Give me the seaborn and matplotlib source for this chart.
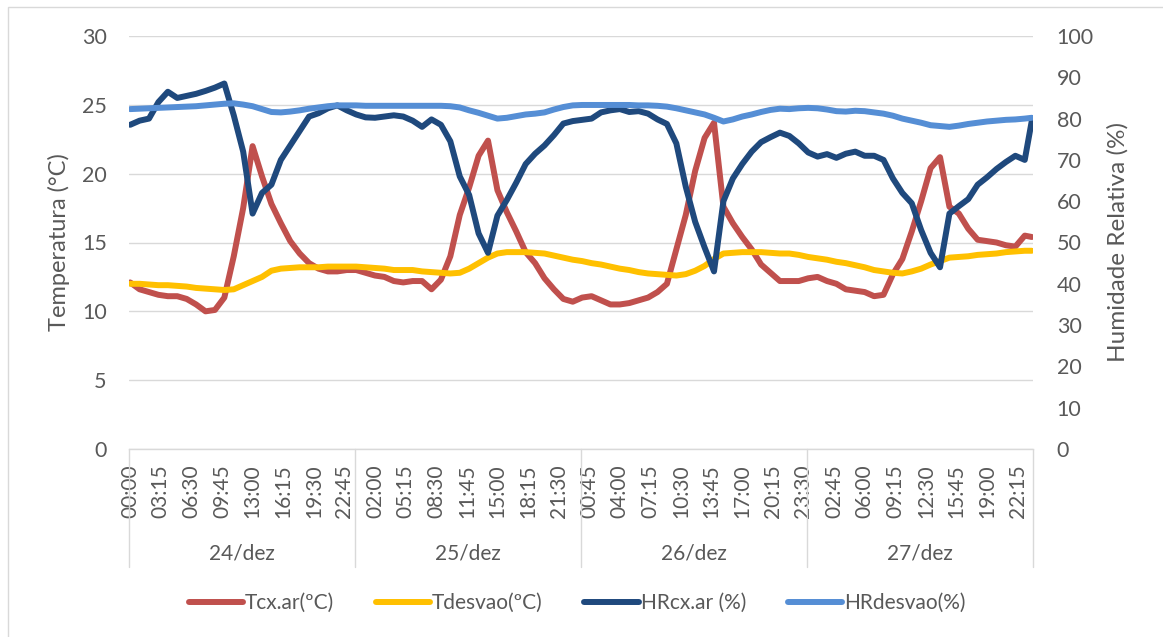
import numpy as np
import pandas as pd
import matplotlib
matplotlib.use("Agg")
import matplotlib.pyplot as plt
import matplotlib.transforms as mtransforms
from matplotlib.patches import Rectangle
import seaborn as sns

# leituras horarias (h desde 24/dez 00:00), ultima leitura 27/dez 23:45
horas = list(range(96)) + [95.75]

tcx_ar = [12.1, 11.6, 11.4, 11.2, 11.1, 11.1, 10.9, 10.5, 10.0, 10.1,
          11.0, 14.0, 17.5, 22.0, 19.8, 17.8, 16.4, 15.1, 14.2, 13.5,
          13.1, 12.9, 12.9, 13.0, 13.0, 12.8, 12.6, 12.5, 12.2, 12.1,
          12.2, 12.2, 11.6, 12.3, 14.0, 17.0, 19.0, 21.3, 22.4, 18.8,
          17.2, 15.8, 14.3, 13.5, 12.4, 11.6, 10.9, 10.7, 11.0, 11.1,
          10.8, 10.5, 10.5, 10.6, 10.8, 11.0, 11.4, 12.0, 14.5, 17.0,
          20.2, 22.6, 23.7, 17.6, 16.4, 15.4, 14.5, 13.4, 12.8, 12.2,
          12.2, 12.2, 12.4, 12.5, 12.2, 12.0, 11.6, 11.5, 11.4, 11.1,
          11.2, 12.7, 13.8, 15.8, 18.0, 20.4, 21.2, 17.6, 17.1, 16.0,
          15.2, 15.1, 15.0, 14.8, 14.7, 15.5, 15.4]

tdesvao = [12.0, 12.0, 11.95, 11.9, 11.9, 11.85, 11.8, 11.7, 11.65, 11.6,
           11.55, 11.6, 11.9, 12.2, 12.5, 12.95, 13.1, 13.15, 13.2, 13.2,
           13.2, 13.25, 13.25, 13.25, 13.25, 13.2, 13.15, 13.1, 13.0, 13.0,
           13.0, 12.9, 12.85, 12.8, 12.75, 12.8, 13.1, 13.5, 13.9, 14.2,
           14.3, 14.3, 14.3, 14.25, 14.2, 14.05, 13.9, 13.75, 13.65, 13.5,
           13.4, 13.25, 13.1, 13.0, 12.85, 12.75, 12.7, 12.65, 12.6, 12.7,
           12.95, 13.3, 13.8, 14.2, 14.25, 14.3, 14.3, 14.3, 14.25, 14.2,
           14.2, 14.1, 13.95, 13.85, 13.75, 13.6, 13.5, 13.35, 13.2, 13.0,
           12.9, 12.8, 12.75, 12.9, 13.1, 13.4, 13.65, 13.9, 13.95, 14.0,
           14.1, 14.15, 14.2, 14.3, 14.35, 14.4, 14.4]

hrcx_ar = [78.5, 79.5, 80.0, 84.0, 86.5, 85.0, 85.5, 86.0, 86.7, 87.5,
           88.5, 80.8, 72.0, 57.0, 62.0, 64.0, 70.0, 73.5, 77.0, 80.5,
           81.3, 82.5, 83.2, 82.0, 81.0, 80.3, 80.2, 80.5, 80.8, 80.5,
           79.5, 78.0, 79.8, 78.5, 74.5, 66.0, 61.5, 52.2, 47.5, 56.5,
           60.3, 64.5, 69.0, 71.5, 73.5, 76.0, 78.8, 79.4, 79.7, 80.0,
           81.5, 82.0, 82.3, 81.6, 81.8, 81.2, 79.8, 78.7, 74.0, 63.5,
           55.0, 48.8, 43.0, 60.0, 65.5, 69.0, 72.0, 74.3, 75.5, 76.6,
           75.8, 74.0, 71.8, 70.8, 71.4, 70.5, 71.5, 72.0, 71.0, 71.0,
           70.0, 65.5, 62.0, 59.5, 53.0, 47.5, 44.0, 57.0, 58.8, 60.5,
           64.0, 65.8, 67.8, 69.5, 71.0, 70.0, 79.5]

hrdesvao = [82.3, 82.4, 82.5, 82.6, 82.7, 82.8, 82.9, 83.0, 83.2, 83.4,
            83.6, 83.7, 83.4, 83.0, 82.3, 81.6, 81.5, 81.7, 82.0, 82.4,
            82.7, 83.0, 83.2, 83.2, 83.2, 83.1, 83.1, 83.1, 83.1, 83.1,
            83.1, 83.1, 83.1, 83.1, 83.0, 82.7, 82.0, 81.4, 80.7, 80.0,
            80.2, 80.6, 81.0, 81.2, 81.5, 82.2, 82.8, 83.2, 83.3, 83.3,
            83.3, 83.3, 83.3, 83.3, 83.2, 83.2, 83.1, 82.9, 82.5, 82.0,
            81.5, 81.0, 80.2, 79.3, 79.8, 80.5, 81.0, 81.6, 82.1, 82.4,
            82.3, 82.5, 82.6, 82.5, 82.2, 81.8, 81.7, 81.9, 81.8, 81.5,
            81.2, 80.7, 80.0, 79.5, 79.0, 78.4, 78.2, 78.0, 78.3, 78.7,
            79.0, 79.3, 79.5, 79.7, 79.8, 80.0, 80.2]

dias = ['24/dez', '25/dez', '26/dez', '27/dez']
rotulos_hora = ['00:00', '03:15', '06:30', '09:45', '13:00', '16:15', '19:30', '22:45',
                '02:00', '05:15', '08:30', '11:45', '15:00', '18:15', '21:30',
                '00:45', '04:00', '07:15', '10:30', '13:45', '17:00', '20:15', '23:30',
                '02:45', '06:00', '09:15', '12:30', '15:45', '19:00', '22:15']

series_t = ['Tcx.ar(ºC)', 'Tdesvao(ºC)']
series_hr = ['HRcx.ar (%)', 'HRdesvao(%)']
cores_t = ['#C0504D', '#FFC000']
cores_hr = ['#1F497D', '#558ED5']

sns.set_style("white")
cinza = '#595959'
grelha = '#D9D9D9'
plt.rcParams['font.family'] = ['Lato', 'DejaVu Sans']
plt.rcParams['text.color'] = cinza
plt.rcParams['xtick.color'] = cinza
plt.rcParams['ytick.color'] = cinza
plt.rcParams['axes.labelcolor'] = cinza

n = len(horas)
df_t = pd.DataFrame({'hora': horas * 2,
                     'valor': tcx_ar + tdesvao,
                     'serie': [series_t[0]] * n + [series_t[1]] * n})
df_hr = pd.DataFrame({'hora': horas * 2,
                      'valor': hrcx_ar + hrdesvao,
                      'serie': [series_hr[0]] * n + [series_hr[1]] * n})

W, H = 1163, 637
fig = plt.figure(figsize=(W / 100, H / 100), dpi=100)
ax = fig.add_axes([129 / W, 1 - 449 / H, 904 / W, 413 / H])

sns.lineplot(data=df_t, x='hora', y='valor', hue='serie', hue_order=series_t,
             palette=cores_t, linewidth=4.3, solid_capstyle='round',
             legend=False, ax=ax)
ax2 = ax.twinx()
sns.lineplot(data=df_hr, x='hora', y='valor', hue='serie', hue_order=series_hr,
             palette=cores_hr, linewidth=4.3, solid_capstyle='round',
             legend=False, ax=ax2)
linhas = list(ax.get_lines()) + list(ax2.get_lines())

ax.set_xlim(-0.125, 95.875)
ax.set_ylim(0, 30)
ax2.set_ylim(0, 100)
ax.set_yticks(range(0, 31, 5))
ax2.set_yticks(range(0, 101, 10))
ax.set_xticks(np.arange(len(rotulos_hora)) * 3.25)
ax.set_xticklabels(rotulos_hora, rotation=90, va='top', ha='center')
ax.tick_params(axis='x', length=0, pad=11, labelsize=15)
ax.tick_params(axis='y', length=0, pad=16, labelsize=15.5)
ax2.tick_params(axis='y', length=0, pad=17, labelsize=15.5)
ax.set_xlabel('')
ax.set_ylabel('')
ax2.set_ylabel('')
ax.grid(axis='y', color=grelha, linewidth=1.0)
ax.grid(axis='x', visible=False)
ax2.grid(False)
for s in ['top', 'left', 'right']:
    ax.spines[s].set_visible(False)
    ax2.spines[s].set_visible(False)
ax2.spines['bottom'].set_visible(False)
ax.spines['bottom'].set_color(grelha)
ax.spines['bottom'].set_linewidth(1.0)

# eixo de categorias com dois niveis (dias)
trans = mtransforms.blended_transform_factory(ax.transData, ax.transAxes)
for d in range(len(dias) + 1):
    xd = 24 * d - 0.125
    ax.plot([xd, xd], [0, -118 / 413], transform=trans, color=grelha,
            linewidth=1.0, clip_on=False)
for d, dia in enumerate(dias):
    ax.text(24 * d + 12 - 0.125, -104 / 413, dia, transform=trans,
            ha='center', va='center', fontsize=15)

fig.text(59 / W, 1 - 242.5 / H, 'Temperatura (°C)', rotation=90,
         ha='center', va='center', fontsize=17)
fig.text(1118 / W, 1 - 242.5 / H, 'Humidade Relativa (%)', rotation=90,
         ha='center', va='center', fontsize=17.5)

fig.legend(linhas, series_t + series_hr, loc='center',
           bbox_to_anchor=(577 / W, 1 - 603 / H), ncol=4, frameon=False,
           handlelength=2.6, handletextpad=0.1, columnspacing=2.0, fontsize=15)

fig.add_artist(Rectangle((8 / W, -0.05), 1.1, 1 - 7 / H + 0.05,
                         transform=fig.transFigure, fill=False,
                         edgecolor=grelha, linewidth=1.0))

fig.savefig('out.png', dpi=100)
